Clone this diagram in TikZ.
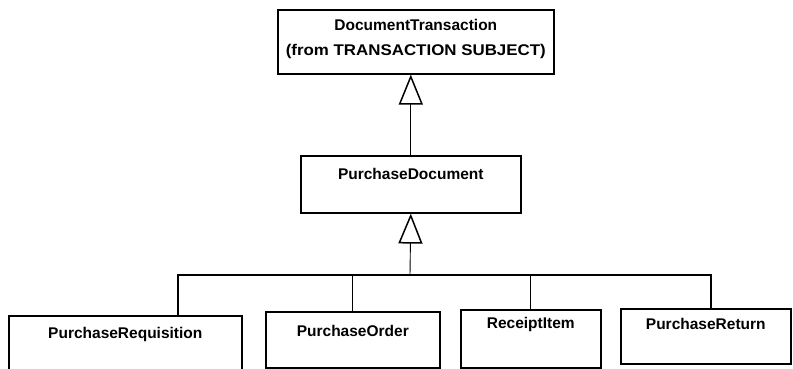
\documentclass[tikz,border=0pt]{standalone}
\usepackage{fontspec}
\setmainfont{Liberation Sans}
\usetikzlibrary{arrows.meta,positioning}

\begin{document}
\begin{tikzpicture}[x=1pt,y=-1pt,
  cls/.style={rectangle,draw,line width=1.6pt,inner sep=0pt,anchor=north west,
    align=center,font=\fontsize{15.5}{25}\selectfont\bfseries},
  gen/.style={-{Triangle[open,length=30pt,width=24pt,line width=1.5pt]},line width=0.9pt},
  tie/.style={line width=1.1pt}]
  \useasboundingbox (0,0) rectangle (793,369);
  % classes
  \node[cls,minimum width=276pt,text height=45.5pt,text depth=18.5pt] (doc) at (277,9)
    {DocumentTransaction\\\scalebox{1.09}[1]{(from TRANSACTION SUBJECT)}};
  \node[cls,minimum width=220pt,text height=23.5pt,text depth=33.5pt] (pdoc) at (300,155) {PurchaseDocument};
  \node[cls,minimum width=233pt,text height=22.5pt,text depth=40pt] (preq) at (8,315) {PurchaseRequisition};
  \node[cls,minimum width=174pt,text height=24.5pt,text depth=31.5pt] (pord) at (265,311) {PurchaseOrder};
  \node[cls,minimum width=140pt,text height=18.5pt,text depth=39.5pt] (rcpt) at (460,309) {ReceiptItem};
  \node[cls,minimum width=170pt,text height=20.5pt,text depth=34.5pt] (pret) at (620,308) {PurchaseReturn};
  % generalisations
  \coordinate (bar) at (410,275);
  \coordinate (bl) at (178,275);
  \coordinate (br) at (711,275);
  \draw[gen] (pdoc.north) -- (pdoc.north |- doc.south);
  \draw[gen] (bar) -- (pdoc.south);
  \draw[tie] (bl |- preq.north) -- (bl) -- (br) -- (br |- pret.north);
  \draw[tie] (pord.north) -- (pord.north |- bar);
  \draw[tie] (rcpt.north) -- (rcpt.north |- bar);
\end{tikzpicture}
\end{document}
